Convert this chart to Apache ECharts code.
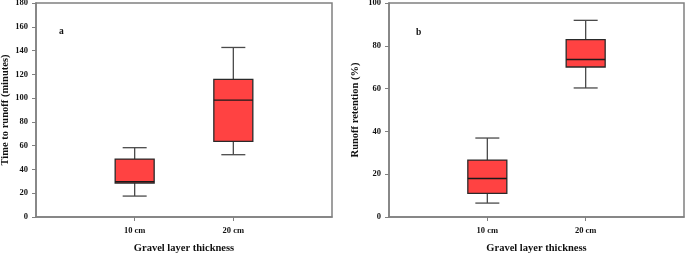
<!DOCTYPE html>
<html>
<head>
<meta charset="utf-8">
<script src="https://cdn.jsdelivr.net/npm/echarts@6/dist/echarts.min.js"></script>
<style>html,body{margin:0;padding:0;background:#fff}#c{width:685px;height:253px}</style>
</head>
<body>
<div id="c"></div>
<script>
// Categories
const categories = ['10 cm', '20 cm'];
// Box stats: [min, Q1, median, Q3, max]
const timeToRunoff = [
  [17.6, 28.6, 29.7, 48.7, 58.3],
  [52.4, 63.6, 98.3, 115.7, 142.6]
];
const runoffRetention = [
  [6.5, 11.0, 18.0, 26.6, 36.9],
  [60.3, 70.1, 73.6, 82.9, 91.9]
];
const yTicksA = {min: 0, max: 180, interval: 20};
const yTicksB = {min: 0, max: 100, interval: 20};
const panelLabels = ['a', 'b'];
const xTitle = 'Gravel layer thickness';
const yTitles = ['Time to runoff (minutes)', 'Runoff retention (%)'];

const FONT = '"Liberation Serif", "Times New Roman", serif';
const axisData = [''].concat(categories, ['']);

function toData(stats) {
  return stats.map((s, i) => [i + 1].concat(s));
}

function renderBox(params, api) {
  const x = api.value(0);
  const pMin = api.coord([x, api.value(1)]);
  const pQ1 = api.coord([x, api.value(2)]);
  const pMed = api.coord([x, api.value(3)]);
  const pQ3 = api.coord([x, api.value(4)]);
  const pMax = api.coord([x, api.value(5)]);
  const cx = pMed[0];
  const hw = 19.5, cw = 12;
  const wStyle = {stroke: '#4a4a4a', lineWidth: 1.3};
  return {
    type: 'group',
    children: [
      {type: 'line', shape: {x1: cx, y1: pQ3[1], x2: cx, y2: pMax[1]}, style: wStyle},
      {type: 'line', shape: {x1: cx, y1: pQ1[1], x2: cx, y2: pMin[1]}, style: wStyle},
      {type: 'line', shape: {x1: cx - cw, y1: pMax[1], x2: cx + cw, y2: pMax[1]}, style: wStyle},
      {type: 'line', shape: {x1: cx - cw, y1: pMin[1], x2: cx + cw, y2: pMin[1]}, style: wStyle},
      {type: 'rect', shape: {x: cx - hw, y: pQ3[1], width: hw * 2, height: pQ1[1] - pQ3[1]},
        style: {fill: '#ff4242', stroke: '#2a2a2a', lineWidth: 1.3}},
      {type: 'line', shape: {x1: cx - hw, y1: pMed[1], x2: cx + hw, y2: pMed[1]},
        style: {stroke: '#1a1a1a', lineWidth: 1.3}}
    ]
  };
}

function xAxis(gi) {
  const show = (i) => i === 1 || i === 2;
  return {
    type: 'category', gridIndex: gi, data: axisData, boundaryGap: false,
    axisLine: {lineStyle: {color: '#808080', width: 1.5}},
    axisTick: {interval: (i) => show(i), length: 4, lineStyle: {color: '#808080'}},
    axisLabel: {interval: (i) => show(i), margin: 9, fontFamily: FONT, fontWeight: 'bold', fontSize: 8.5, color: '#111'},
    name: xTitle, nameLocation: 'middle', nameGap: 26,
    nameTextStyle: {fontFamily: FONT, fontWeight: 'bold', fontSize: 10.5, color: '#111'},
    splitLine: {show: false}
  };
}
function yAxis(gi, t, title, gap) {
  return {
    type: 'value', gridIndex: gi, min: t.min, max: t.max, interval: t.interval,
    axisLine: {show: true, lineStyle: {color: '#808080', width: 1.5}},
    axisTick: {show: true, length: 4, lineStyle: {color: '#808080'}},
    axisLabel: {margin: 8, fontFamily: FONT, fontWeight: 'bold', fontSize: 8.5, color: '#111'},
    splitLine: {show: false},
    name: title, nameLocation: 'middle', nameRotate: 90, nameGap: gap,
    nameTextStyle: {fontFamily: FONT, fontWeight: 'bold', fontSize: 10.5, color: '#111'}
  };
}

const chart = echarts.init(document.getElementById('c'), null, {renderer: 'canvas'});
chart.setOption({
  animation: false,
  backgroundColor: '#fff',
  grid: [
    {left: 36, top: 3, width: 296, height: 214, containLabel: false, outerBoundsMode: 'none', show: true, borderColor: '#808080', borderWidth: 1.5, backgroundColor: 'transparent'},
    {left: 389, top: 3, width: 295, height: 214, containLabel: false, outerBoundsMode: 'none', show: true, borderColor: '#808080', borderWidth: 1.5, backgroundColor: 'transparent'}
  ],
  xAxis: [xAxis(0), xAxis(1)],
  yAxis: [yAxis(0, yTicksA, yTitles[0], 25), yAxis(1, yTicksB, yTitles[1], 28)],
  graphic: [
    {type: 'text', left: 59, top: 27, style: {text: panelLabels[0], font: 'bold 9.5px ' + FONT, fill: '#111'}},
    {type: 'text', left: 416, top: 28, style: {text: panelLabels[1], font: 'bold 9.5px ' + FONT, fill: '#111'}}
  ],
  series: [
    {type: 'custom', xAxisIndex: 0, yAxisIndex: 0, renderItem: renderBox, data: toData(timeToRunoff), encode: {x: 0, y: [1, 2, 3, 4, 5]}},
    {type: 'custom', xAxisIndex: 1, yAxisIndex: 1, renderItem: renderBox, data: toData(runoffRetention), encode: {x: 0, y: [1, 2, 3, 4, 5]}}
  ]
});
</script>
</body>
</html>
